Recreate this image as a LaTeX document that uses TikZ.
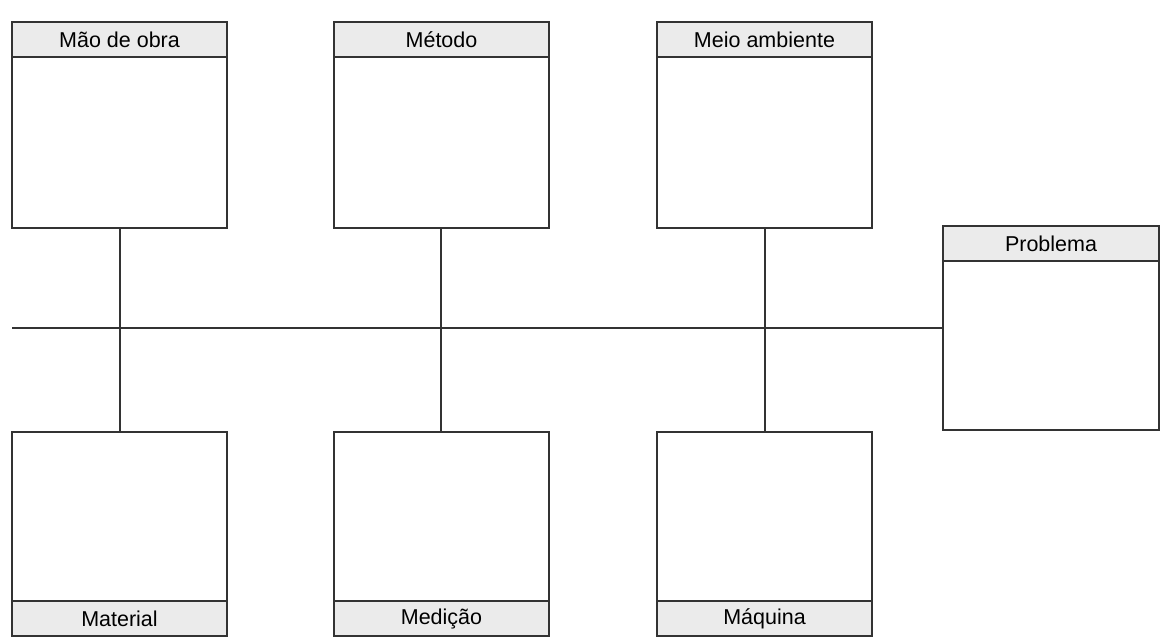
\documentclass[tikz,border=0pt]{standalone}
\usepackage{fontspec}
\setmainfont{Liberation Sans}
\begin{document}
\begin{tikzpicture}[x=1pt,y=-1pt,
  line/.style={draw=black!80,line width=1.6pt},
  cbox/.style={line,fill=white,minimum width=215pt,minimum height=#1,inner sep=0pt,outer sep=0pt},
  head/.style={line,fill=black!8,minimum width=215pt,minimum height=35pt,inner sep=0pt,outer sep=0pt,font=\fontsize{21.5}{24}\selectfont}]
\useasboundingbox (0,0) rectangle (1173,637);
% top row
\node[cbox=206pt,anchor=north west] (b1) at (12,22) {};
\node[head,anchor=north west] (h1) at (12,22) {Mão de obra};
\node[cbox=206pt,anchor=north west] (b2) at (334,22) {};
\node[head,anchor=north west] (h2) at (334,22) {Método};
\node[cbox=206pt,anchor=north west] (b3) at (657,22) {};
\node[head,anchor=north west] (h3) at (657,22) {Meio ambiente};
% bottom row
\node[cbox=204pt,anchor=north west] (b4) at (12,432) {};
\node[head,anchor=south west] (h4) at (12,636) {Material};
\node[cbox=204pt,anchor=north west] (b5) at (334,432) {};
\node[head,anchor=south west] (h5) at (334,636) {Medição};
\node[cbox=204pt,anchor=north west] (b6) at (657,432) {};
\node[head,anchor=south west] (h6) at (657,636) {Máquina};
% problem
\node[cbox=204pt,minimum width=216pt,anchor=north west] (p) at (943,226) {};
\node[head,minimum width=216pt,anchor=north west] (hp) at (943,226) {Problema};
% spine
\coordinate (s0) at (12,328);
\draw[line] (p.west) -- (s0);
\draw[line] (b1.south -| 120,0) -- (b4.north -| 120,0);
\draw[line] (b2.south -| 441,0) -- (b5.north -| 441,0);
\draw[line] (b3.south -| 765,0) -- (b6.north -| 765,0);
\end{tikzpicture}
\end{document}
